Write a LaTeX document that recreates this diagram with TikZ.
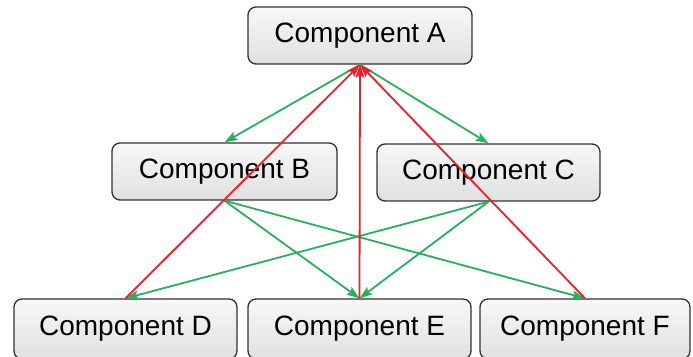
\documentclass[tikz,border=0pt]{standalone}
\usepackage{fontspec}
\setmainfont{Liberation Sans}
\usetikzlibrary{arrows.meta,shadings}
\definecolor{edgegreen}{RGB}{38,178,92}
\definecolor{edgered}{RGB}{236,30,42}
\definecolor{boxline}{RGB}{50,50,50}
\begin{document}
\begin{tikzpicture}[x=1pt,y=1pt,
  comp/.style={draw=boxline, line width=1.3pt, rounded corners=8pt,
    top color=gray!6, bottom color=gray!24, inner sep=0pt,
    font=\fontsize{28}{32}\selectfont, minimum height=57pt},
  garrow/.style={draw=edgegreen, line width=1.8pt, -{Stealth[length=13pt,width=9pt,inset=2.5pt]}},
  rarrow/.style={draw=edgered, line width=1.8pt, -{Stealth[length=13pt,width=9pt,inset=2.5pt]}}
]
\useasboundingbox (0,0) rectangle (693,356);
\node[comp, minimum width=224pt] (A) at (360,320.5) {Component A};
\node[comp, minimum width=225pt] (B) at (224.5,184.5) {Component B};
\node[comp, minimum width=223pt] (C) at (488.5,183.5) {Component C};
\node[comp, minimum width=223pt, minimum height=60pt] (D) at (125.5,27) {Component D};
\node[comp, minimum width=223pt, minimum height=60pt] (E) at (359.5,27) {Component E};
\node[comp, minimum width=210pt, minimum height=60pt] (F) at (585,27) {Component F};
\draw[garrow] (A.south) -- (B.north);
\draw[garrow] (A.south) -- (C.north);
\draw[garrow] (B.south) -- (E.north);
\draw[garrow] (B.south) -- (F.north);
\draw[garrow] (C.south) -- (D.north);
\draw[garrow] (C.south) -- (E.north);
\draw[rarrow] (D.north) -- (A.south);
\draw[rarrow] (E.north) -- (A.south);
\draw[rarrow] (F.north) -- (A.south);
\end{tikzpicture}
\end{document}
